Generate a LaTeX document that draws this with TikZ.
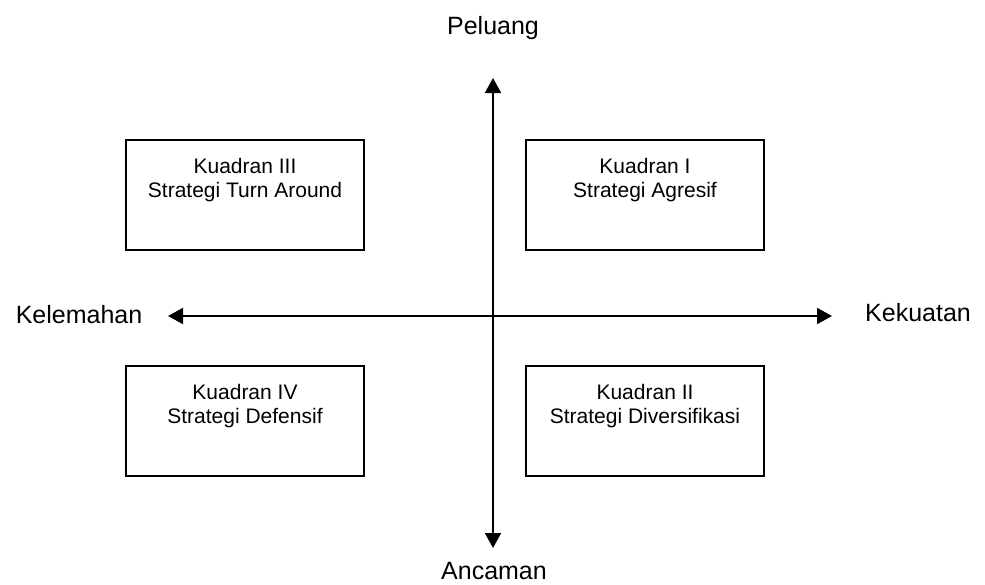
\documentclass[tikz,border=0pt]{standalone}
\usepackage{fontspec}
\setmainfont{Liberation Sans}
\usetikzlibrary{arrows.meta,positioning}
\begin{document}
\begin{tikzpicture}[
            x=1pt, y=-1pt,
            every node/.style={font=\fontsize{25}{27}\selectfont},
            quadbox/.style={draw, line width=1.4pt, minimum width=238pt, minimum height=110pt, inner sep=0pt},
            quadtext/.style={align=center, inner sep=0pt, font=\fontsize{21}{23.5}\selectfont},
            axisline/.style={line width=1.8pt, {Triangle[length=15pt,width=16pt]}-{Triangle[length=15pt,width=16pt]}}
        ]
            \useasboundingbox (0,0) rectangle (985,584);

            \foreach \q/\x/\y/\txt in {q1/645/195/{Kuadran I\\Strategi Agresif},
                                       q2/645/421/{Kuadran II\\Strategi Diversifikasi},
                                       q3/245/195/{Kuadran III\\Strategi Turn Around},
                                       q4/245/421/{Kuadran IV\\Strategi Defensif}} {
                \node[quadbox] (\q) at (\x,\y) {};
                \node[quadtext, below=19pt of \q.north] (t\q) {\txt};
            }

            \coordinate (top) at (493,78);
            \coordinate (bottom) at (493,548);
            \coordinate (left) at (168,316);
            \coordinate (right) at (832,316);

            \draw[axisline] (bottom) -- (top);
            \draw[axisline] (left) -- (right);

            \node (peluang) at (493,28) {Peluang};
            \node (ancaman) at (494,571) {Ancaman};
            \node (kelemahan) at (79,315) {Kelemahan};
            \node (kekuatan) at (918,313) {Kekuatan};

        \end{tikzpicture}
\end{document}
